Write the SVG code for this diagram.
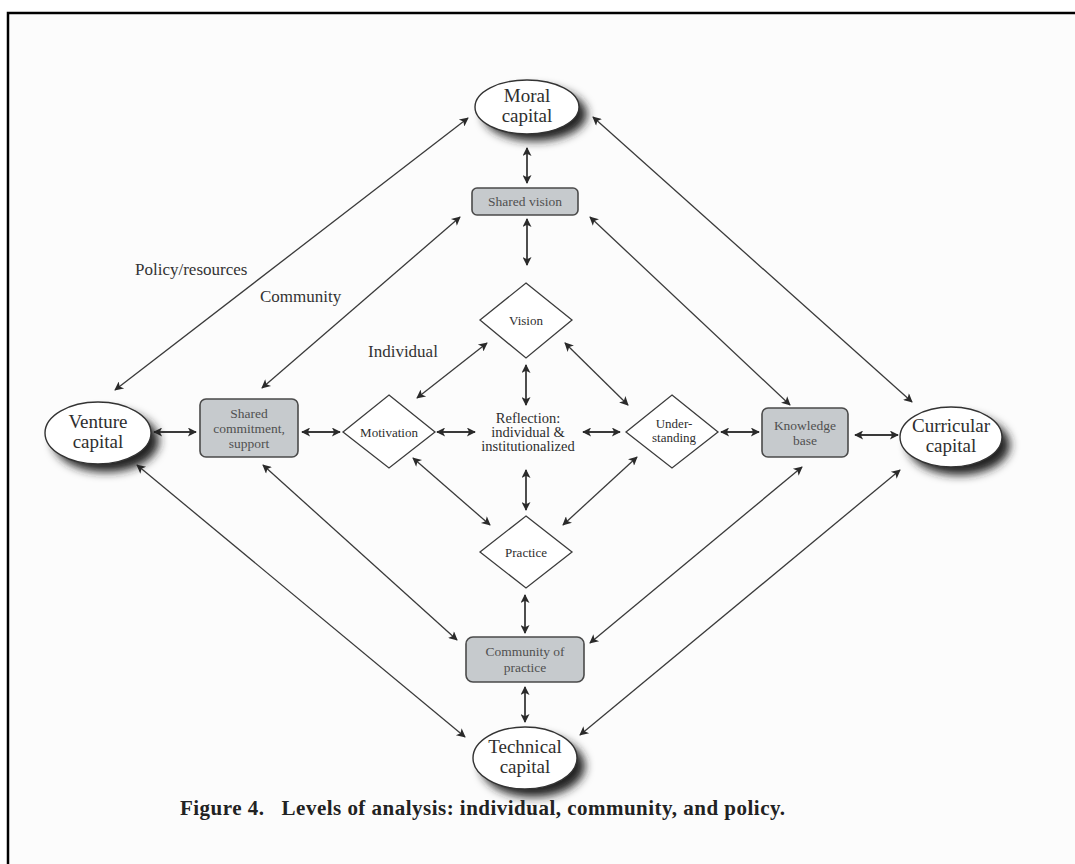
<svg xmlns="http://www.w3.org/2000/svg" width="1075" height="864" viewBox="0 0 1075 864">
  <style>
    .txt { font-family: "Liberation Serif", "Times New Roman", serif; fill: #2e2e2e; text-anchor: middle; }
    .cap { font-size: 19px; }
    .box { fill: #c6cacd; stroke: #4a4a4a; stroke-width: 1.6; }
    .boxt { font-size: 13.5px; fill: #505050; }
    .dia { fill: #ffffff; stroke: #3c3c3c; stroke-width: 1.3; }
    .diat { font-size: 13px; }
    .ell { fill: #ffffff; stroke: #333333; stroke-width: 1.4; }
    .lvl { font-size: 17px; text-anchor: start; fill: #333; }
    .con line { stroke: #3a3a3a; stroke-width: 1.3; marker-start: url(#ah); marker-end: url(#ah); }
    .con .thick { stroke-width: 1.8; }
  </style>
  <defs>
    <marker id="ah" viewBox="0 0 10 10" refX="9" refY="5" markerWidth="11" markerHeight="9" markerUnits="userSpaceOnUse" orient="auto-start-reverse">
      <path d="M0,0 L10,5 L0,10 L2.5,5 Z" fill="#2a2a2a"/>
    </marker>
    <filter id="sh" x="-50%" y="-50%" width="200%" height="200%">
      <feGaussianBlur stdDeviation="5"/>
    </filter>
  </defs>

  <!-- page -->
  <rect x="0" y="0" width="1075" height="864" fill="#ffffff"/>
  <rect x="8" y="13" width="1067" height="851" fill="#fcfcfc"/>
  <path d="M8,864 L8,13 L1075,13" fill="none" stroke="#000" stroke-width="2.5"/>

  <!-- connectors -->
  <g id="connectors" class="con">
    <!-- policy level -->
    <line x1="115" y1="390" x2="468" y2="118"/>
    <line x1="593" y1="117" x2="912" y2="402"/>
    <line x1="137" y1="465" x2="465" y2="737"/>
    <line x1="900" y1="470" x2="580" y2="735"/>
    <!-- community level -->
    <line x1="262" y1="388" x2="460" y2="217"/>
    <line x1="590" y1="217" x2="790" y2="405"/>
    <line x1="263" y1="465" x2="457" y2="640"/>
    <line x1="802" y1="467" x2="590" y2="643"/>
    <!-- individual level -->
    <line x1="417" y1="398" x2="487" y2="343"/>
    <line x1="565" y1="343" x2="628" y2="405"/>
    <line x1="413" y1="458" x2="490" y2="525"/>
    <line x1="637" y1="457" x2="563" y2="525"/>
    <!-- vertical axis -->
    <line class="thick" x1="527" y1="148" x2="527" y2="183"/>
    <line class="thick" x1="527" y1="219" x2="527" y2="265"/>
    <line class="thick" x1="526" y1="365" x2="526" y2="405"/>
    <line class="thick" x1="526" y1="470" x2="526" y2="510"/>
    <line class="thick" x1="525" y1="595" x2="525" y2="633"/>
    <line class="thick" x1="525" y1="687" x2="525" y2="722"/>
    <!-- horizontal axis -->
    <line class="thick" x1="154" y1="432" x2="196" y2="432"/>
    <line class="thick" x1="302" y1="432" x2="340" y2="432"/>
    <line class="thick" x1="437" y1="432" x2="475" y2="432"/>
    <line class="thick" x1="583" y1="432" x2="620" y2="432"/>
    <line class="thick" x1="721" y1="432" x2="759" y2="432"/>
    <line class="thick" x1="855" y1="435" x2="898" y2="435"/>
  </g>

  <!-- level labels -->
  <text class="txt lvl" x="135" y="275">Policy/resources</text>
  <text class="txt lvl" x="260" y="302">Community</text>
  <text class="txt lvl" x="368" y="357">Individual</text>

  <!-- capitals (ellipses with soft shadow) -->
  <g id="moral">
    <ellipse cx="535" cy="114" rx="52" ry="27" fill="#222" filter="url(#sh)"/>
    <ellipse class="ell" cx="527" cy="107" rx="52" ry="27"/>
    <text class="txt cap" x="527" y="102">Moral</text>
    <text class="txt cap" x="527" y="122">capital</text>
  </g>
  <g id="venture">
    <ellipse cx="106" cy="441" rx="53" ry="31" fill="#222" filter="url(#sh)"/>
    <ellipse class="ell" cx="98" cy="433" rx="53" ry="31"/>
    <text class="txt cap" x="98" y="428">Venture</text>
    <text class="txt cap" x="98" y="448">capital</text>
  </g>
  <g id="curricular">
    <ellipse cx="959" cy="445" rx="51" ry="30" fill="#222" filter="url(#sh)"/>
    <ellipse class="ell" cx="951" cy="437" rx="51" ry="30"/>
    <text class="txt cap" x="951" y="432">Curricular</text>
    <text class="txt cap" x="951" y="452">capital</text>
  </g>
  <g id="technical">
    <ellipse cx="533" cy="766" rx="52" ry="31" fill="#222" filter="url(#sh)"/>
    <ellipse class="ell" cx="525" cy="758" rx="52" ry="31"/>
    <text class="txt cap" x="525" y="753">Technical</text>
    <text class="txt cap" x="525" y="773">capital</text>
  </g>

  <!-- community boxes -->
  <g id="shared-vision">
    <rect class="box" x="472" y="188" width="106" height="27" rx="5"/>
    <text class="txt boxt" x="525" y="206">Shared vision</text>
  </g>
  <g id="shared-commitment">
    <rect class="box" x="200" y="399" width="98" height="58" rx="6"/>
    <text class="txt boxt" x="249" y="418">Shared</text>
    <text class="txt boxt" x="249" y="433">commitment,</text>
    <text class="txt boxt" x="249" y="448">support</text>
  </g>
  <g id="knowledge-base">
    <rect class="box" x="762" y="408" width="86" height="49" rx="6"/>
    <text class="txt boxt" x="805" y="430">Knowledge</text>
    <text class="txt boxt" x="805" y="445">base</text>
  </g>
  <g id="community-of-practice">
    <rect class="box" x="466" y="637" width="118" height="45" rx="7"/>
    <text class="txt boxt" x="525" y="656">Community of</text>
    <text class="txt boxt" x="525" y="672">practice</text>
  </g>

  <!-- individual diamonds -->
  <g id="vision">
    <polygon class="dia" points="526,283 572,320 526,358 480,320"/>
    <text class="txt diat" x="526" y="325">Vision</text>
  </g>
  <g id="motivation">
    <polygon class="dia" points="389,395 435,432 389,468 343,432"/>
    <text class="txt diat" x="389" y="437">Motivation</text>
  </g>
  <g id="understanding">
    <polygon class="dia" points="672,395 718,432 672,468 626,432"/>
    <text class="txt diat" x="674" y="428">Under-</text>
    <text class="txt diat" x="674" y="442">standing</text>
  </g>
  <g id="practice">
    <polygon class="dia" points="526,516 572,552 526,588 480,552"/>
    <text class="txt diat" x="526" y="557">Practice</text>
  </g>
  <g id="reflection">
    <text class="txt" style="font-size:14.5px" x="528" y="423">Reflection:</text>
    <text class="txt" style="font-size:14.5px" x="528" y="437">individual &amp;</text>
    <text class="txt" style="font-size:14.5px" x="528" y="451">institutionalized</text>
  </g>

  <!-- caption -->
  <text class="txt" x="180" y="815" textLength="605" lengthAdjust="spacing" style="font-size:21px;font-weight:bold;text-anchor:start;fill:#222" xml:space="preserve">Figure 4.   Levels of analysis: individual, community, and policy.</text>
</svg>
